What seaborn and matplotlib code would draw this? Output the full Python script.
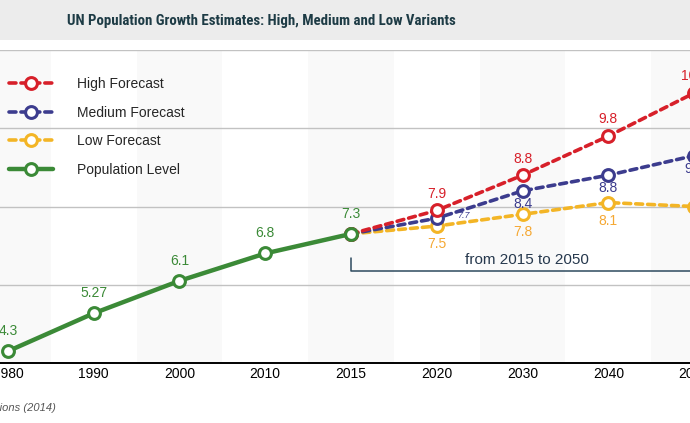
import matplotlib
matplotlib.use("Agg")
import matplotlib.pyplot as plt
from matplotlib.patches import Rectangle
import pandas as pd
import seaborn as sns

# Données (milliards d'habitants)
years = ['1980', '1990', '2000', '2010', '2015', '2020', '2030', '2040', '2050']
pop_years = ['1980', '1990', '2000', '2010', '2015']
pop_values = [4.3, 5.27, 6.1, 6.8, 7.3]
fc_years = ['2015', '2020', '2030', '2040', '2050']
high_values = [7.3, 7.9, 8.8, 9.8, 10.9]
medium_values = [7.3, 7.7, 8.4, 8.8, 9.3]
low_values = [7.3, 7.5, 7.8, 8.1, 8.0]

title = "UN Population Growth Estimates: High, Medium and Low Variants"
source = "Source: United Nations (2014)"

RED = "#d7202a"
BLUE = "#3c3c8e"
GOLD = "#f3b526"
GOLD_TXT = "#f5a833"
GREEN = "#3b8a37"

sns.set_theme(style="white")
plt.rcParams['font.family'] = ['Liberation Sans', 'DejaVu Sans']
plt.rcParams['lines.scale_dashes'] = False

fig = plt.figure(figsize=(6.9, 4.23), dpi=100)
W, H = 690, 423
# axes plus large que la figure (graphique rogné à gauche et à droite)
ax = fig.add_axes([-35 / W, 60 / H, 772 / W, 313 / H])

# bandeau du titre
fig.patches.append(Rectangle((0, 1 - 40 / H), 1, 40 / H, transform=fig.transFigure,
                             facecolor="#ececec", edgecolor="none", zorder=0))
fig.text(261 / W, 1 - 21 / H, title, ha='center', va='center', fontsize=10.7,
         fontweight='bold', color="#1d3b45",
         family=['Liberation Sans Narrow', 'Roboto Condensed', 'Roboto', 'DejaVu Sans'])

pos = {y: i for i, y in enumerate(years)}
df_pop = pd.DataFrame({'x': [pos[y] for y in pop_years], 'v': pop_values})
df_fc = pd.DataFrame({'x': [pos[y] for y in fc_years], 'high': high_values,
                      'medium': medium_values, 'low': low_values})

# bandes verticales alternées
for i in range(0, len(years), 2):
    ax.axvspan(i - 0.5, i + 0.5, color="#f9f9f9", zorder=0, lw=0)

dash = (0, (5, 3.6))
common = dict(marker='o', markersize=8.5, markerfacecolor='white', markeredgewidth=2.2,
              linewidth=2.6, dash_capstyle='round', linestyle=dash)
sns.lineplot(data=df_fc, x='x', y='low', color=GOLD, markeredgecolor=GOLD,
             label='Low Forecast', ax=ax, zorder=3, **common)
sns.lineplot(data=df_fc, x='x', y='medium', color=BLUE, markeredgecolor=BLUE,
             label='Medium Forecast', ax=ax, zorder=4, **common)
sns.lineplot(data=df_fc, x='x', y='high', color=RED, markeredgecolor=RED,
             label='High Forecast', ax=ax, zorder=5, **common)
sns.lineplot(data=df_pop, x='x', y='v', color=GREEN, markeredgecolor=GREEN,
             marker='o', markersize=8.5, markerfacecolor='white', markeredgewidth=2.2,
             linewidth=3.2, label='Population Level', ax=ax, zorder=6)

# étiquettes de valeurs
def fmt(v):
    return f"{v:g}"

for x, v in zip(df_pop['x'], pop_values):
    ax.annotate(fmt(v), (x, v), xytext=(0, 14.5), textcoords='offset points',
                ha='center', va='center', fontsize=10, color=GREEN)
for x, v in list(zip(df_fc['x'], high_values))[1:]:
    ax.annotate(fmt(v), (x, v), xytext=(0, 12), textcoords='offset points',
                ha='center', va='center', fontsize=10, color=RED)
for i, (x, v) in enumerate(list(zip(df_fc['x'], medium_values))[1:]):
    if i == 0:
        ax.annotate(fmt(v), (x, v), xytext=(19, 2), textcoords='offset points',
                    ha='center', va='center', fontsize=6.5, color=BLUE, style='italic')
    else:
        ax.annotate(fmt(v), (x, v), xytext=(0, -9.5), textcoords='offset points',
                    ha='center', va='center', fontsize=10, color=BLUE)
for x, v in list(zip(df_fc['x'], low_values))[1:]:
    ax.annotate(fmt(v), (x, v), xytext=(0, -13), textcoords='offset points',
                ha='center', va='center', fontsize=10, color=GOLD_TXT)

# accolade "from 2015 to 2050"
x0 = pos['2015']
ax.plot([x0, x0, len(years) - 0.5], [6.68, 6.35, 6.35], color="#2d4a5e", lw=1.1,
        zorder=2, clip_on=False)
ax.text(6.05, 6.64, "from 2015 to 2050", ha='center', va='center', fontsize=11,
        color="#26384d")

ax.set_xlim(-0.5, len(years) - 0.5)
ax.set_ylim(4, 12)
ax.set_xticks(range(len(years)))
ax.set_xticklabels(years)
ax.set_xticks([i + 0.5 for i in range(len(years) - 1)], minor=True)
ax.tick_params(axis='x', which='major', length=0, labelsize=10, pad=3, colors='black')
ax.tick_params(axis='x', which='minor', length=6, width=1.1, direction='in', color='black')
ax.set_yticks([6, 8, 10, 12])
ax.tick_params(axis='y', length=0, labelleft=False)
ax.yaxis.grid(True, color="#c2c2c2", lw=1)
ax.set_axisbelow(True)
ax.set_xlabel("")
ax.set_ylabel("")
for s in ['top', 'left', 'right']:
    ax.spines[s].set_visible(False)
ax.spines['bottom'].set_color('black')
ax.spines['bottom'].set_linewidth(1.4)
ax.patch.set_alpha(0)

# légende
h, l = ax.get_legend_handles_labels()
order = ['High Forecast', 'Medium Forecast', 'Low Forecast', 'Population Level']
handles = [h[l.index(o)] for o in order]
ax.legend(handles, order, loc='upper left', bbox_to_anchor=(9 / W, 1 - 77 / H),
          bbox_transform=fig.transFigure, frameon=False, fontsize=10,
          handlelength=3.2, handletextpad=1.7, labelspacing=1.05, borderpad=0,
          borderaxespad=0, numpoints=1)

fig.text(56 / W, 1 - 408 / H, source, ha='right', va='center', fontsize=8,
         style='italic', color="#555555")

fig.savefig("out.png", dpi=100)
